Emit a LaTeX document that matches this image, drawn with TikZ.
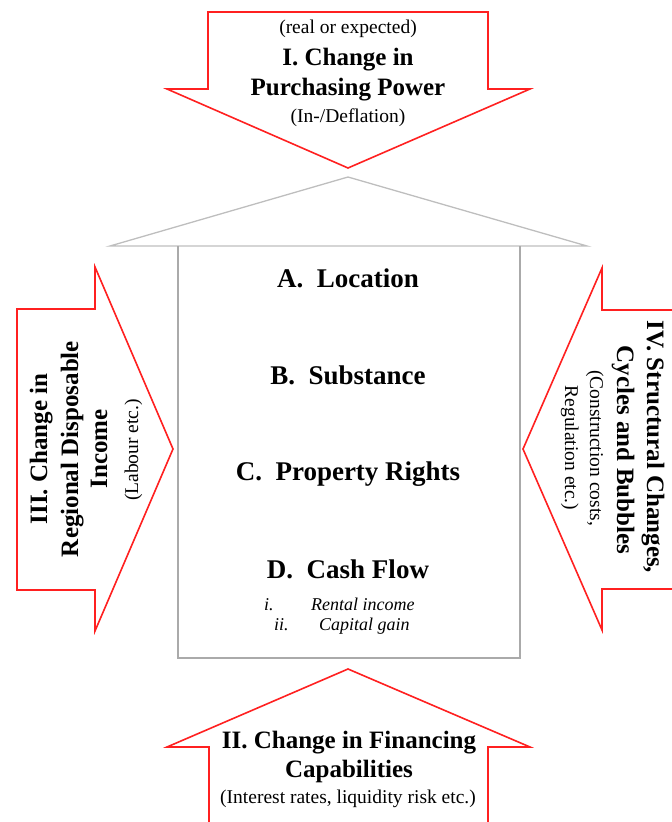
\documentclass[tikz,border=0pt]{standalone}
\usepackage{fontspec}
\setmainfont{Liberation Serif}
\definecolor{arrowred}{RGB}{255,32,32}
\definecolor{framegray}{RGB}{170,170,170}
\definecolor{roofgray}{RGB}{190,190,190}
\begin{document}
\begin{tikzpicture}[x=1pt,y=-1pt,
  arrowline/.style={draw=arrowred,line width=1.6pt,line join=miter},
  frameline/.style={draw=framegray,line width=1.6pt},
  roofline/.style={draw=roofgray,line width=1.3pt},
  title/.style={font=\fontsize{25}{30}\selectfont\bfseries,inner sep=0pt,anchor=base},
  note/.style={font=\fontsize{19.5}{23}\selectfont,inner sep=0pt,anchor=base},
  item/.style={font=\fontsize{27}{32}\selectfont\bfseries,inner sep=0pt,anchor=base},
  sub/.style={font=\fontsize{18}{21}\selectfont\itshape,inner sep=0pt,anchor=base west}]
\useasboundingbox (0,0) rectangle (672,822);
\begin{scope}
\clip (0,0) rectangle (672,822);

% I: arrow pointing down onto the roof
\draw[arrowline] (208,12) -- (488,12) -- (488,89) -- (530,89) -- (348,168)
  -- (167,89) -- (208,89) -- cycle;
% II: arrow pointing up from the bottom edge
\draw[arrowline] (209,830) -- (209,747) -- (167,747) -- (348,669)
  -- (530,747) -- (488,747) -- (488,830);
% III: arrow pointing right from the left
\draw[arrowline] (17,309) -- (95,309) -- (95,267) -- (173,449) -- (95,631)
  -- (95,590) -- (17,590) -- cycle;
% IV: arrow pointing left from the right edge
\draw[arrowline] (680,310) -- (602,310) -- (602,268) -- (523,449)
  -- (602,630) -- (602,589) -- (680,589);

% house: roof and walls
\draw[roofline] (110,246) -- (348,177) -- (587,246) -- cycle;
\draw[frameline] (178,246) -- (178,658) -- (520,658) -- (520,246);
\end{scope}

% texts of arrow I
\node[note]  (t1a) at (348,33)  {(real or expected)};
\node[title] (t1b) at (348,65)  {I. Change in};
\node[title] (t1c) at (348,95)  {Purchasing Power};
\node[note]  (t1d) at (348,122) {(In-/Deflation)};

% texts of arrow II
\node[title] (t2a) at (349,748) {II. Change in Financing};
\node[title] (t2b) at (349,777) {Capabilities};
\node[note]  (t2c) at (348,803) {(Interest rates, liquidity risk etc.)};

% texts of arrow III
\node[title,rotate=90] (t3a) at (47,449)  {III. Change in};
\node[title,rotate=90] (t3b) at (78,449)  {Regional Disposable};
\node[title,rotate=90] (t3c) at (107,449) {Income};
\node[note,rotate=90]  (t3d) at (138,450) {(Labour etc.)};

% texts of arrow IV
\node[title,rotate=-90] (t4a) at (647,447) {IV. Structural Changes,};
\node[title,rotate=-90] (t4b) at (617,450) {Cycles and Bubbles};
\node[note,rotate=-90]  (t4c) at (590,448) {(Construction costs,};
\node[note,rotate=-90]  (t4d) at (565,448) {Regulation etc.)};

% contents of the house
\node[item] (ia) at (348,287) {A.\hspace{0.5em}Location};
\node[item] (ib) at (348,384) {B.\hspace{0.5em}Substance};
\node[item] (ic) at (348,480) {C.\hspace{0.5em}Property Rights};
\node[item] (id) at (348,578) {D.\hspace{0.5em}Cash Flow};
\node[sub] (n1) at (264,610) {i.};
\node[sub] (s1) at (311,610) {Rental income};
\node[sub] (n2) at (274,630) {ii.};
\node[sub] (s2) at (319,630) {Capital gain};
\end{tikzpicture}
\end{document}
